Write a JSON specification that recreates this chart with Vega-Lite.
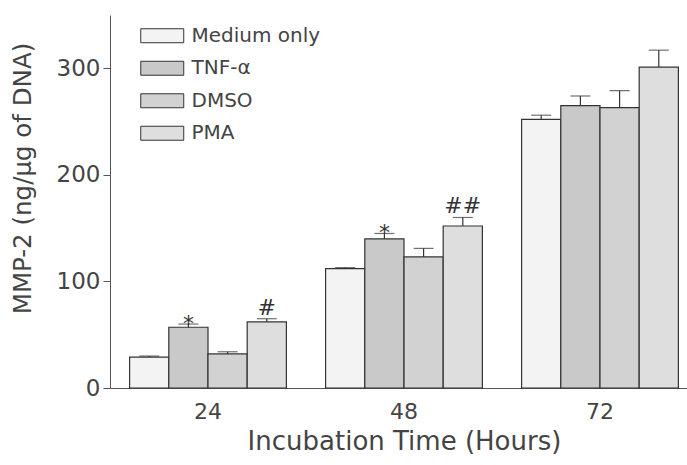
{
  "$schema": "https://vega.github.io/schema/vega-lite/v6.json",
  "width": 588,
  "height": 373,
  "autosize": "none",
  "padding": {"left": 110, "top": 15, "right": 0, "bottom": 77},
  "background": "white",
  "config": {
    "view": {"stroke": null},
    "font": "DejaVu Sans",
    "axis": {"domainColor": "#555", "tickColor": "#555", "labelColor": "#444", "titleColor": "#444", "grid": false, "labelFont": "DejaVu Sans", "titleFont": "DejaVu Sans", "titleFontWeight": "normal"}
  },
  "data": {
    "values": [
      {"time": "24", "treatment": "Medium only", "mean": 29, "upper": 30, "ann": ""},
      {"time": "24", "treatment": "TNF-α", "mean": 57, "upper": 60, "ann": "*"},
      {"time": "24", "treatment": "DMSO", "mean": 32, "upper": 34, "ann": ""},
      {"time": "24", "treatment": "PMA", "mean": 62, "upper": 65, "ann": "#"},
      {"time": "48", "treatment": "Medium only", "mean": 112, "upper": 113, "ann": ""},
      {"time": "48", "treatment": "TNF-α", "mean": 140, "upper": 145, "ann": "*"},
      {"time": "48", "treatment": "DMSO", "mean": 123, "upper": 131, "ann": ""},
      {"time": "48", "treatment": "PMA", "mean": 152, "upper": 160, "ann": "##"},
      {"time": "72", "treatment": "Medium only", "mean": 252, "upper": 256, "ann": ""},
      {"time": "72", "treatment": "TNF-α", "mean": 265, "upper": 274, "ann": ""},
      {"time": "72", "treatment": "DMSO", "mean": 263, "upper": 279, "ann": ""},
      {"time": "72", "treatment": "PMA", "mean": 301, "upper": 317, "ann": ""}
    ]
  },
  "encoding": {
    "x": {
      "field": "time", "type": "nominal", "sort": ["24", "48", "72"],
      "scale": {"paddingInner": 0.2, "paddingOuter": 0.1},
      "axis": {"title": "Incubation Time (Hours)", "labelAngle": 0, "ticks": false, "labelFontSize": 22, "labelPadding": 13, "titleFontSize": 26, "titlePadding": 6}
    },
    "xOffset": {"field": "treatment", "type": "nominal", "sort": ["Medium only", "TNF-α", "DMSO", "PMA"], "scale": {"paddingInner": 0, "paddingOuter": 0}}
  },
  "layer": [
    {
      "mark": {"type": "bar", "stroke": "#333", "strokeWidth": 1.2},
      "encoding": {
        "y": {
          "field": "mean", "type": "quantitative",
          "scale": {"domain": [0, 350], "nice": false},
          "axis": {"title": "MMP-2 (ng/μg of DNA)", "values": [0, 100, 200, 300], "tickSize": 7, "labelPadding": 3, "labelFontSize": 23, "titleFontSize": 24.5, "titleAngle": -90, "titleBaseline": "alphabetic", "titleX": -80, "titleY": 163}
        },
        "fill": {
          "field": "treatment", "type": "nominal", "sort": ["Medium only", "TNF-α", "DMSO", "PMA"],
          "scale": {"range": ["#f3f3f3", "#c9c9c9", "#d2d2d2", "#dedede"]},
          "legend": {
            "title": null, "orient": "none", "legendX": 40.75, "legendY": 9.25, "padding": 0,
            "symbolType": "M-2,-0.65H2V0.65H-2Z", "symbolSize": 462, "symbolStrokeColor": "#333", "symbolStrokeWidth": 1,
            "labelFontSize": 20, "labelColor": "#444", "labelOffset": 17.75, "rowPadding": 10.5, "labelFont": "DejaVu Sans"
          }
        }
      }
    },
    {
      "mark": {"type": "rule", "stroke": "#333", "strokeWidth": 1.2},
      "encoding": {"y": {"field": "mean", "type": "quantitative"}, "y2": {"field": "upper"}}
    },
    {
      "mark": {"type": "tick", "color": "#333", "thickness": 1.2, "size": 20, "orient": "horizontal"},
      "encoding": {"y": {"field": "upper", "type": "quantitative"}}
    },
    {
      "transform": [{"filter": "datum.ann == '*'"}],
      "mark": {"type": "text", "fontSize": 22, "baseline": "alphabetic", "dy": 7, "color": "#333", "font": "DejaVu Sans"},
      "encoding": {"y": {"field": "upper", "type": "quantitative"}, "text": {"field": "ann"}}
    },
    {
      "transform": [{"filter": "datum.ann == '#' || datum.ann == '##'"}],
      "mark": {"type": "text", "fontSize": 22, "baseline": "alphabetic", "dy": -4, "color": "#333", "font": "DejaVu Sans"},
      "encoding": {"y": {"field": "upper", "type": "quantitative"}, "text": {"field": "ann"}}
    }
  ]
}
